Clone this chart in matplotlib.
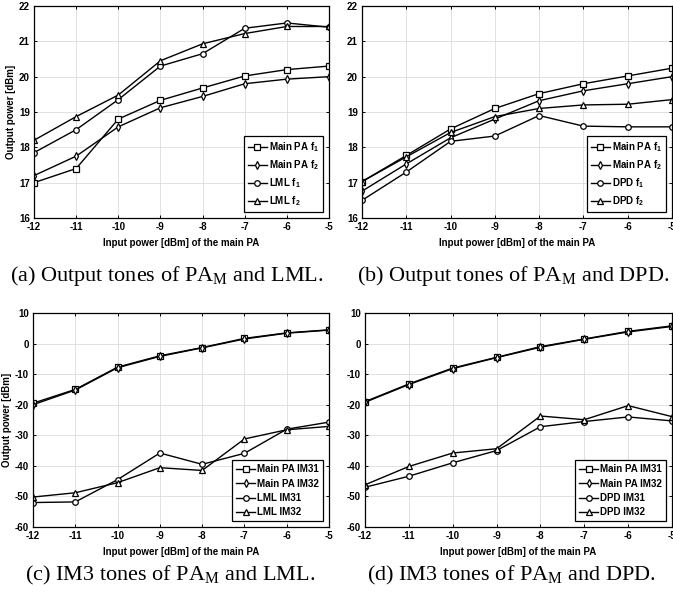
import matplotlib
matplotlib.use('Agg')
import matplotlib.pyplot as plt

plt.rcParams['font.family'] = 'Liberation Sans'
plt.rcParams['font.weight'] = 'bold'
plt.rcParams['axes.unicode_minus'] = False
plt.rcParams['mathtext.fontset'] = 'custom'
plt.rcParams['mathtext.rm'] = 'Liberation Serif:weight=normal'
plt.rcParams['mathtext.bf'] = 'Liberation Sans:bold'

# input power of the main PA [dBm]
x_in = [-12, -11, -10, -9, -8, -7, -6, -5]

# (a) output tones, PA_M and LML
a_main_f1 = [17.0, 17.4, 18.8, 19.33, 19.68, 20.02, 20.2, 20.3]
a_main_f2 = [17.2, 17.75, 18.58, 19.12, 19.44, 19.8, 19.93, 20.0]
a_lml_f1 = [17.85, 18.5, 19.35, 20.3, 20.65, 21.37, 21.52, 21.4]
a_lml_f2 = [18.2, 18.87, 19.48, 20.45, 20.93, 21.22, 21.42, 21.42]

# (b) output tones, PA_M and DPD
b_main_f1 = [17.03, 17.77, 18.52, 19.1, 19.52, 19.8, 20.02, 20.24]
b_main_f2 = [16.76, 17.53, 18.27, 18.8, 19.32, 19.6, 19.8, 20.0]
b_dpd_f1 = [16.5, 17.3, 18.17, 18.32, 18.9, 18.6, 18.58, 18.58]
b_dpd_f2 = [17.03, 17.73, 18.42, 18.87, 19.1, 19.2, 19.22, 19.35]

# (c) IM3 tones, PA_M and LML
c_main_im31 = [-19.5, -15.0, -7.7, -4.0, -1.3, 1.7, 3.5, 4.5]
c_main_im32 = [-20.0, -15.2, -7.9, -4.2, -1.4, 1.5, 3.4, 4.4]
c_lml_im31 = [-52.0, -51.8, -44.5, -35.8, -39.5, -35.9, -28.0, -25.7]
c_lml_im32 = [-50.2, -48.8, -45.5, -40.6, -41.5, -31.2, -28.2, -27.1]

# (d) IM3 tones, PA_M and DPD
d_main_im31 = [-19.0, -13.2, -8.0, -4.5, -1.0, 1.5, 4.0, 5.8]
d_main_im32 = [-19.2, -13.4, -8.2, -4.6, -1.2, 1.4, 3.8, 5.6]
d_dpd_im31 = [-47.0, -43.4, -39.0, -35.0, -27.2, -25.5, -24.0, -25.3]
d_dpd_im32 = [-46.2, -40.2, -35.8, -34.4, -23.7, -24.9, -20.3, -23.9]

markers = ['s', 'd', 'o', '^']
W, H = 673, 592


def make_axes(fig, left, right, top, bottom):
    return fig.add_axes([left / W, 1 - bottom / H, (right - left) / W, (bottom - top) / H])


def draw_panel(ax, series, labels, ylim, yticks, ylabel):
    for y, lab, m in zip(series, labels, markers):
        ax.plot(x_in, y, color='black', lw=1.0, marker=m, markersize=4,
                markerfacecolor='white', markeredgewidth=0.9, label=lab)
    ax.set_xlim(-12, -5)
    ax.set_ylim(*ylim)
    ax.set_xticks(x_in)
    ax.set_yticks(yticks)
    ax.grid(True, color='#dcdcdc', lw=0.6)
    ax.set_axisbelow(True)
    ax.tick_params(direction='in', length=2.5, width=0.7, labelsize=7,
                   top=True, right=True, pad=3)
    for sp in ax.spines.values():
        sp.set_linewidth(0.9)
    ax.set_xlabel('Input power [dBm] of the main PA', fontsize=7,
                  fontweight='bold', labelpad=4)
    if ylabel:
        ax.set_ylabel('Output power [dBm]', fontsize=7, fontweight='bold', labelpad=2)
    leg = ax.legend(loc='lower right', fontsize=7, handlelength=2.0,
                    handletextpad=0.2, labelspacing=0.45, borderaxespad=0.6,
                    borderpad=0.4, fancybox=False, framealpha=1)
    leg.get_frame().set_edgecolor('black')
    leg.get_frame().set_linewidth(0.9)


fig = plt.figure(figsize=(W / 100, H / 100), dpi=100)

ax_a = make_axes(fig, 34, 329, 6, 218)
draw_panel(ax_a, [a_main_f1, a_main_f2, a_lml_f1, a_lml_f2],
           ['Main PA f$_\\mathbf{1}$', 'Main PA f$_\\mathbf{2}$',
            'LML f$_\\mathbf{1}$', 'LML f$_\\mathbf{2}$'],
           (16, 22), range(16, 23), True)

ax_b = make_axes(fig, 362, 672, 6, 218)
draw_panel(ax_b, [b_main_f1, b_main_f2, b_dpd_f1, b_dpd_f2],
           ['Main PA f$_\\mathbf{1}$', 'Main PA f$_\\mathbf{2}$',
            'DPD f$_\\mathbf{1}$', 'DPD f$_\\mathbf{2}$'],
           (16, 22), range(16, 23), False)

ax_c = make_axes(fig, 33, 329, 313, 527)
draw_panel(ax_c, [c_main_im31, c_main_im32, c_lml_im31, c_lml_im32],
           ['Main PA IM31', 'Main PA IM32', 'LML IM31', 'LML IM32'],
           (-60, 10), range(-60, 11, 10), True)

ax_d = make_axes(fig, 365, 672, 313, 527)
draw_panel(ax_d, [d_main_im31, d_main_im32, d_dpd_im31, d_dpd_im32],
           ['Main PA IM31', 'Main PA IM32', 'DPD IM31', 'DPD IM32'],
           (-60, 10), range(-60, 11, 10), False)

captions = [
    (167, 281, '(a) Output tones of PA$_\\mathrm{M}$ and LML.'),
    (513, 281, '(b) Output tones of PA$_\\mathrm{M}$ and DPD.'),
    (170, 580, '(c) IM3 tones of PA$_\\mathrm{M}$ and LML.'),
    (512, 580, '(d) IM3 tones of PA$_\\mathrm{M}$ and DPD.'),
]
for cx, cy, txt in captions:
    fig.text(cx / W, 1 - cy / H, txt, ha='center', va='baseline',
             fontsize=16, family='Liberation Serif', fontweight='normal')

fig.savefig('out.png', dpi=100)
